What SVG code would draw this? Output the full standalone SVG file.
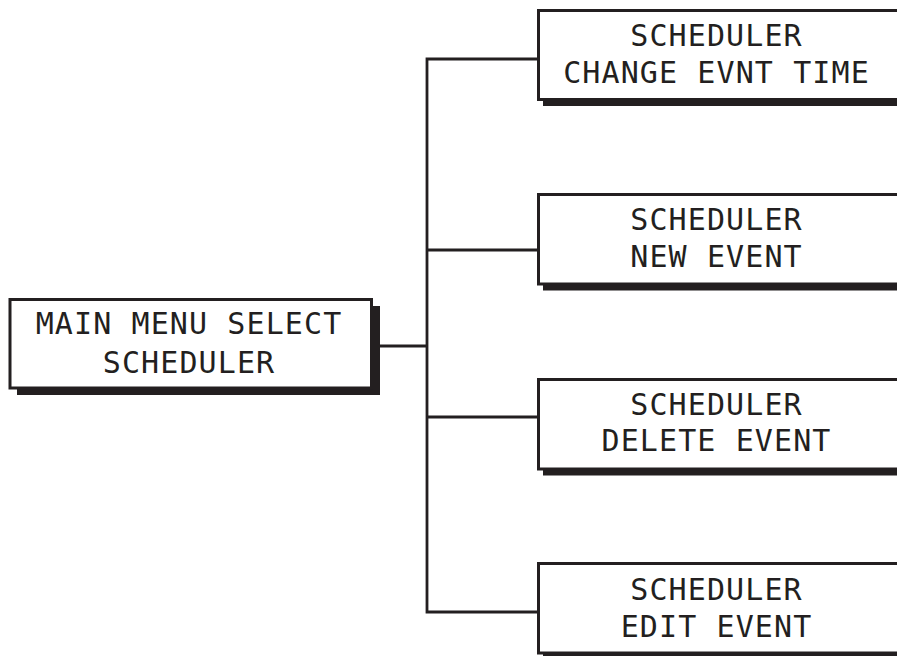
<svg xmlns="http://www.w3.org/2000/svg" width="897" height="656" viewBox="0 0 897 656">
<style>
.shadow{fill:#231f20;stroke:none}
.box{fill:#ffffff;stroke:#231f20;stroke-width:3}
.lbl{font-family:"DejaVu Sans Mono","Liberation Mono",monospace;font-size:30px;letter-spacing:1.1px;fill:#231f20;text-anchor:middle}
.conn{fill:none;stroke:#231f20;stroke-width:2.8;stroke-linejoin:miter}
</style>
<rect width="897" height="656" fill="#ffffff"/>
<g id="connectors">
<path class="conn" d="M537 59 H427 V612 H537"/>
<line class="conn" x1="427" y1="250" x2="537" y2="250"/>
<line class="conn" x1="427" y1="417" x2="537" y2="417"/>
<line class="conn" x1="373" y1="346" x2="427" y2="346"/>
</g>
<g id="main">
<rect class="shadow" x="17" y="306" width="363" height="89"/>
<rect class="box" x="10" y="299.5" width="361.5" height="88.5"/>
<text class="lbl" x="189" y="334">MAIN MENU SELECT</text>
<text class="lbl" x="189" y="373">SCHEDULER</text>
</g>
<g id="change-event-time">
<rect class="shadow" x="543" y="16" width="400" height="90"/>
<rect class="box" x="538.5" y="10.5" width="400" height="89"/>
<text class="lbl" x="716.5" y="46">SCHEDULER</text>
<text class="lbl" x="716.5" y="83">CHANGE EVNT TIME</text>
</g>
<g id="new-event">
<rect class="shadow" x="543" y="200" width="400" height="90.5"/>
<rect class="box" x="538.5" y="194.5" width="400" height="89.5"/>
<text class="lbl" x="716.5" y="230">SCHEDULER</text>
<text class="lbl" x="716.5" y="267">NEW EVENT</text>
</g>
<g id="delete-event">
<rect class="shadow" x="543" y="385" width="400" height="90.5"/>
<rect class="box" x="538.5" y="379.5" width="400" height="89.5"/>
<text class="lbl" x="716.5" y="414.5">SCHEDULER</text>
<text class="lbl" x="716.5" y="451">DELETE EVENT</text>
</g>
<g id="edit-event">
<rect class="shadow" x="543" y="569" width="400" height="90.5"/>
<rect class="box" x="538.5" y="563.5" width="400" height="89.5"/>
<text class="lbl" x="716.5" y="600">SCHEDULER</text>
<text class="lbl" x="716.5" y="637">EDIT EVENT</text>
</g>
</svg>
